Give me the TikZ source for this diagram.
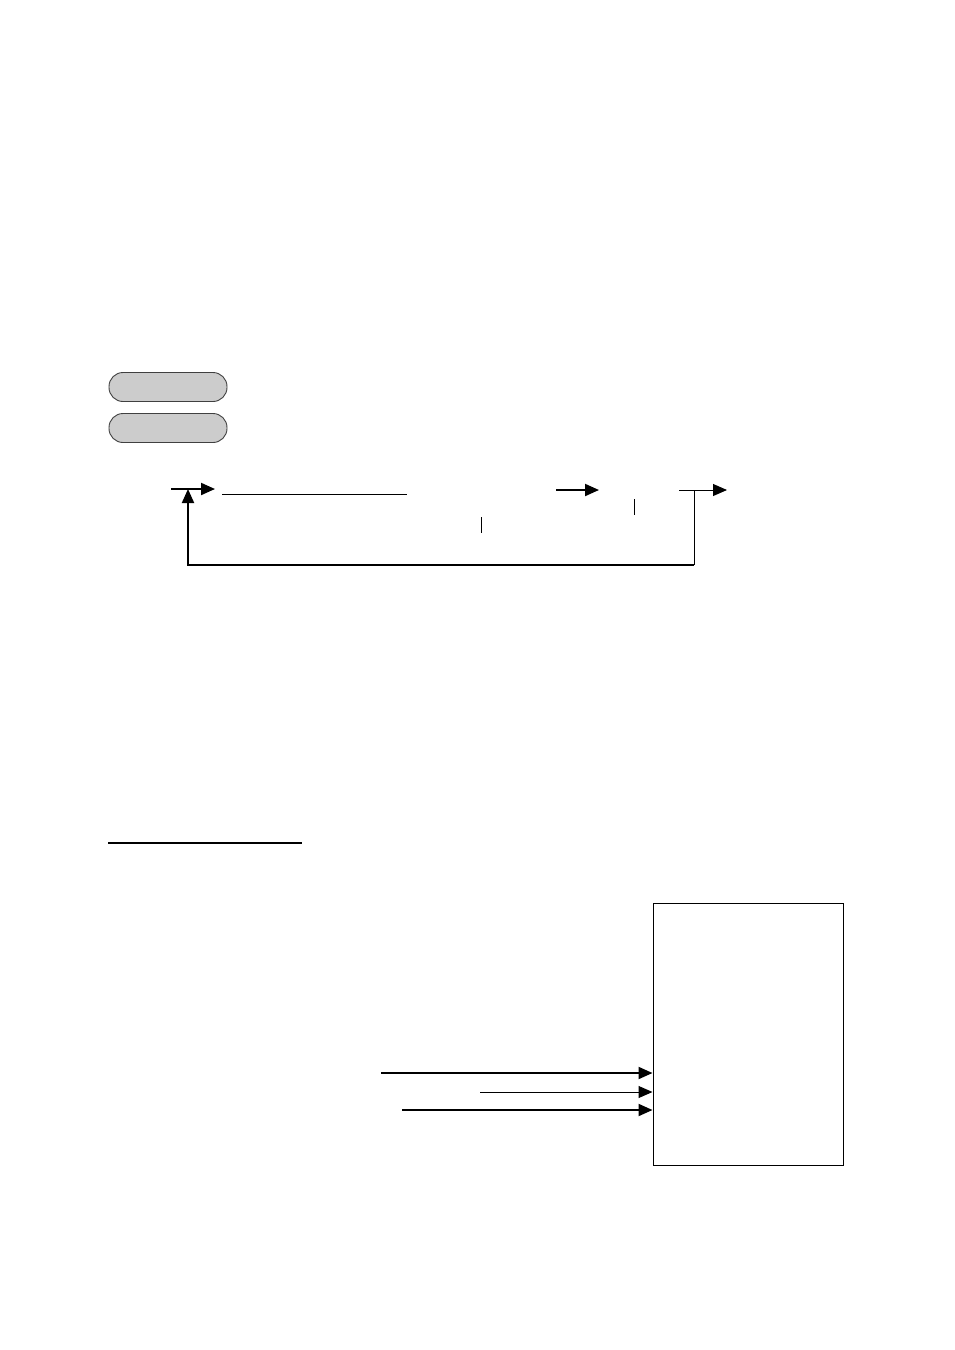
\documentclass[tikz,border=0pt]{standalone}
\usetikzlibrary{arrows.meta}
\definecolor{pillgray}{HTML}{CCCCCC}
\definecolor{pillborder}{HTML}{404040}
\begin{document}
\begin{tikzpicture}[x=1pt,y=-1pt,
  pill/.style={draw=pillborder,fill=pillgray,line width=0.9pt,rounded corners=14pt,minimum width=118pt,minimum height=29pt,inner sep=0pt},
  bigbox/.style={draw=black,line width=1pt,minimum width=190pt,minimum height=262pt,inner sep=0pt},
  thickarr/.style={line width=2pt,-{Triangle[length=14pt,width=12pt]}},
  thinarr/.style={line width=1pt,-{Triangle[length=14pt,width=12pt]}},
  thickline/.style={line width=2pt},
  thinline/.style={line width=1pt}]
\useasboundingbox (0,0) rectangle (954,1350);
% rounded boxes
\node[pill] (p1) at (168,387) {};
\node[pill] (p2) at (168,428) {};
% top flow
\coordinate (a1s) at (171,489);
\coordinate (a1e) at (215,489);
\draw[thickarr] (a1s) -- (a1e);
\coordinate (l1s) at (222,494);
\coordinate (l1e) at (407,494);
\draw[thinline] (l1s) -- (l1e);
\coordinate (a2s) at (556,490);
\coordinate (a2e) at (599,490);
\draw[thickarr] (a2s) -- (a2e);
\coordinate (t1a) at (481,517);
\coordinate (t1b) at (481,533);
\draw[thinline] (t1a) -- (t1b);
\coordinate (t2a) at (634,499);
\coordinate (t2b) at (634,515);
\draw[thinline] (t2a) -- (t2b);
\coordinate (a3s) at (679,490);
\coordinate (a3e) at (727,490);
\draw[thinarr] (a3s) -- (a3e);
% feedback loop
\coordinate (fb0) at (694,490);
\coordinate (fb1) at (694,565);
\coordinate (fb2) at (188,565);
\coordinate (fb3) at (188,489);
\draw[thinline] (fb0) -- (fb1);
\draw[thickarr] (fb1) -- (fb2) -- (fb3);
% underline
\coordinate (u1) at (108,843);
\coordinate (u2) at (302,843);
\draw[line width=1.5pt] (u1) -- (u2);
% bottom box
\node[bigbox] (bx) at (748,1034) {};
\coordinate (b1s) at (381,1073);
\coordinate (b2s) at (480,1092);
\coordinate (b3s) at (402,1110);
\draw[thickarr] (b1s) -- (b1s -| bx.west);
\draw[thinarr] (b2s) -- (b2s -| bx.west);
\draw[thickarr] (b3s) -- (b3s -| bx.west);
\end{tikzpicture}
\end{document}
